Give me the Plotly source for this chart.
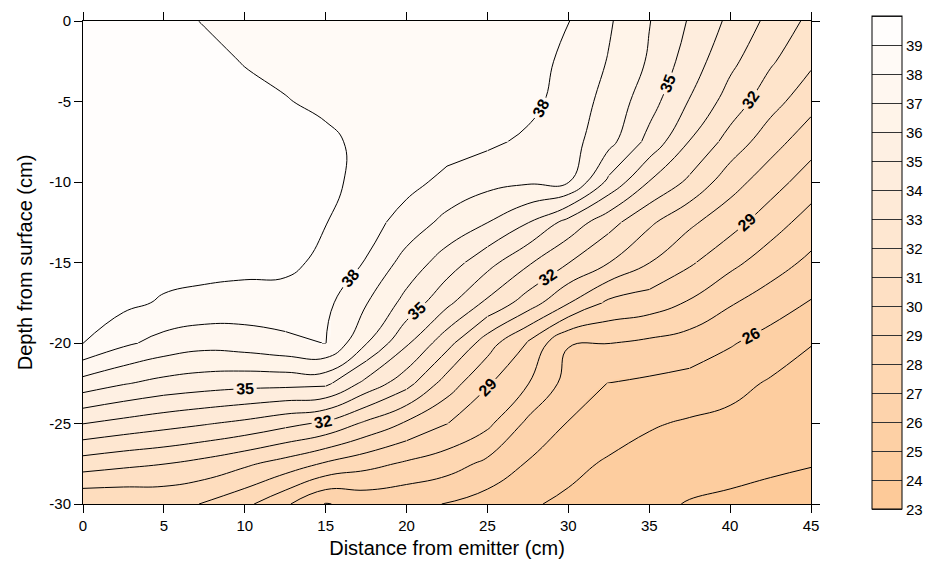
import plotly.graph_objects as go

# Distance from emitter (cm) and depth (cm) of the grid
distance_cm = [0, 2.5, 5, 7.5, 10, 12.5, 15, 17.5, 20, 22.5, 25, 27.5, 30, 32.5, 35, 37.5, 40, 42.5, 45]
depth_cm = [0, -2.5, -5, -7.5, -10, -12.5, -15, -17.5, -20, -22.5, -25, -27.5, -30]

# Values (one row per depth)
row_0 = [39.8, 39.7, 39.3, 38.95, 38.75, 38.65, 38.6, 38.55, 38.5, 38.45, 38.4, 38.3, 38.03, 37.12, 36.04, 34.91, 33.78, 32.73, 31.75]
row_2_5 = [39.8, 39.75, 39.55, 39.3, 38.95, 38.75, 38.65, 38.6, 38.55, 38.5, 38.45, 38.35, 37.8, 36.94, 35.89, 34.53, 33.26, 32.13, 31.19]
row_5 = [39.8, 39.75, 39.65, 39.5, 39.3, 39.05, 38.8, 38.65, 38.6, 38.55, 38.45, 38.3, 37.56, 36.67, 35.41, 33.94, 32.56, 31.39, 30.35]
row_7_5 = [39.8, 39.75, 39.7, 39.6, 39.5, 39.4, 39.2, 38.75, 38.6, 38.4, 38.2, 37.8, 37.4, 36.32, 34.69, 32.96, 31.62, 30.41, 29.42]
row_10 = [39.8, 39.75, 39.7, 39.65, 39.55, 39.45, 39.2, 38.75, 38.3, 37.74, 37.3, 37.12, 37.05, 34.75, 32.96, 31.79, 30.42, 29.44, 28.5]
row_12_5 = [39.75, 39.75, 39.7, 39.65, 39.55, 39.4, 39.03, 38.4, 37.6, 36.71, 36.02, 35.04, 33.65, 32.37, 31.18, 30.19, 29.38, 28.46, 27.58]
row_15 = [39.6, 39.6, 39.4, 39.3, 39.3, 39.3, 38.7, 37.94, 36.61, 35.52, 34.35, 33.14, 32.03, 31.02, 30.02, 29.14, 28.28, 27.48, 26.77]
row_17_5 = [39.45, 39.25, 38.88, 38.75, 38.6, 38.5, 38.25, 37.06, 35.67, 34.24, 32.8, 31.53, 30.06, 28.8, 28.5, 27.9, 27.1, 26.49, 25.93]
row_20 = [39.02, 38.2, 37.65, 37.35, 37.5, 37.8, 38.02, 36.06, 34.15, 32.36, 30.46, 28.88, 27.05, 27.02, 26.8, 26.54, 26.09, 25.6, 25.03]
row_22_5 = [36.6, 36.08, 35.69, 35.48, 35.35, 35.32, 35.25, 33.7, 32.38, 30.53, 29.1, 28.04, 26.63, 25.97, 25.83, 25.68, 25.33, 24.89, 24.68]
row_25 = [34.02, 33.68, 33.37, 33.08, 32.76, 32.29, 31.82, 30.8, 29.86, 29.02, 28.22, 26.79, 25.95, 25.51, 25.1, 24.88, 24.73, 24.5, 24.36]
row_27_5 = [31.5, 31.23, 31.02, 30.67, 30.18, 29.6, 28.88, 28.33, 27.85, 27.44, 26.77, 25.92, 25.29, 24.87, 24.6, 24.38, 24.25, 24.12, 24.03]
row_30 = [29.05, 29.1, 29.2, 28.97, 28.25, 27.17, 25.95, 26.3, 26.2, 25.97, 25.55, 25.12, 24.8, 24.49, 24.19, 23.95, 23.85, 23.77, 23.7]

values = [row_0, row_2_5, row_5, row_7_5, row_10, row_12_5, row_15, row_17_5,
          row_20, row_22_5, row_25, row_27_5, row_30]

x_ticks = [0, 5, 10, 15, 20, 25, 30, 35, 40, 45]
y_ticks = [0, -5, -10, -15, -20, -25, -30]
cbar_ticks = list(range(23, 40))

# labelled contour levels and the grid blocks (column i0..i1, row j0..j1)
# in which each carries its label
label_blocks = {
    38: [(10, 13, 0, 3), (5, 9, 5, 8)],
    35: [(13, 16, 0, 3), (7, 10, 6, 9), (2, 6, 8, 10)],
    32: [(15, 18, 0, 3), (10, 13, 5, 8), (5, 8, 9, 11)],
    29: [(14, 18, 4, 6), (8, 11, 7, 10)],
    26: [(15, 18, 6, 9)],
}

FONT = "Liberation Sans, Arial, Helvetica, sans-serif"
scale = [[0.0, "rgb(253,200,150)"], [1.0, "rgb(255,255,255)"]]
SMOOTH = 1.3

fig = go.Figure()

# filled bands
fig.add_trace(go.Contour(
    x=distance_cm, y=depth_cm, z=values,
    colorscale=scale, zmin=23, zmax=40, autocontour=False,
    contours=dict(start=23, end=40, size=1, coloring="fill", showlines=False),
    line=dict(width=0, smoothing=SMOOTH), showscale=False, hoverinfo="skip"))

# unlabelled levels on the whole grid
for s in (24, 25):
    fig.add_trace(go.Contour(
        x=distance_cm, y=depth_cm, z=values, autocontour=False,
        contours=dict(start=s, end=39, size=3, coloring="none"),
        line=dict(color="black", width=1, smoothing=SMOOTH),
        showscale=False, hoverinfo="skip"))


def block(i0, i1, j0, j1):
    xs = distance_cm[i0:i1 + 1]
    ys = depth_cm[j0:j1 + 1]
    zs = [r[i0:i1 + 1] for r in values[j0:j1 + 1]]
    return xs, ys, zs


def level_trace(level, i0, i1, j0, j1, labels):
    xs, ys, zs = block(i0, i1, j0, j1)
    c = dict(start=level, end=level + 0.5, size=1, coloring="none", showlabels=labels)
    if labels:
        c["labelfont"] = dict(size=16, color="black", family=FONT, weight="bold")
    return go.Contour(x=xs, y=ys, z=zs, autocontour=False, contours=c,
                      line=dict(color="black", width=1, smoothing=SMOOTH),
                      showscale=False, hoverinfo="skip")


nx, ny = len(distance_cm) - 1, len(depth_cm) - 1
for level, blocks in label_blocks.items():
    icuts = sorted(set([0, nx] + [b[0] for b in blocks] + [b[1] for b in blocks]))
    jcuts = sorted(set([0, ny] + [b[2] for b in blocks] + [b[3] for b in blocks]))
    for ia, ib in zip(icuts[:-1], icuts[1:]):
        for ja, jb in zip(jcuts[:-1], jcuts[1:]):
            inside = any(ia >= b[0] and ib <= b[1] and ja >= b[2] and jb <= b[3] for b in blocks)
            if not inside:
                fig.add_trace(level_trace(level, ia, ib, ja, jb, False))
    for b in blocks:
        fig.add_trace(level_trace(level, *b, True))

# colour bar (trace placed on hidden axes so that only its scale shows)
fig.add_trace(go.Contour(
    x=distance_cm, y=depth_cm, z=values, xaxis="x2", yaxis="y2",
    colorscale=scale, zmin=23, zmax=40, autocontour=False,
    contours=dict(start=23, end=40, size=1, coloring="fill"),
    line=dict(color="#333333", width=1), hoverinfo="skip",
    colorbar=dict(x=(874 - 83) / 730, xanchor="left", thickness=30,
                  lenmode="pixels", len=493, y=1 - (260.5 - 16) / 488, yanchor="middle",
                  ypad=0, xpad=0, outlinecolor="black", outlinewidth=1,
                  tickvals=cbar_ticks, ticktext=[str(v) for v in cbar_ticks],
                  ticks="", tickfont=dict(size=15, family=FONT, color="black"))))

axis_common = dict(showline=True, linecolor="black", linewidth=1, mirror="ticks",
                   ticks="outside", ticklen=8, tickwidth=1, tickcolor="black",
                   showgrid=False, zeroline=False,
                   tickfont=dict(size=15, family=FONT, color="black"))

fig.update_layout(
    width=932, height=573,
    margin=dict(l=83, r=119, t=16, b=69),
    paper_bgcolor="white", plot_bgcolor="white",
    showlegend=False,
    xaxis=dict(range=[0, 45], tickvals=x_ticks, ticktext=[str(v) for v in x_ticks],
               title=dict(text="Distance from emitter (cm)", font=dict(size=20, family=FONT, color="black"),
                          standoff=7), **axis_common),
    yaxis=dict(range=[-30, 0], tickvals=y_ticks, ticktext=[str(v) for v in y_ticks],
               title=dict(text="Depth from surface (cm)", font=dict(size=20, family=FONT, color="black"),
                          standoff=11), **axis_common),
    xaxis2=dict(overlaying="x", visible=False, range=[1000, 1001]),
    yaxis2=dict(overlaying="y", visible=False, range=[1000, 1001]),
)

fig.write_html("out.html")
